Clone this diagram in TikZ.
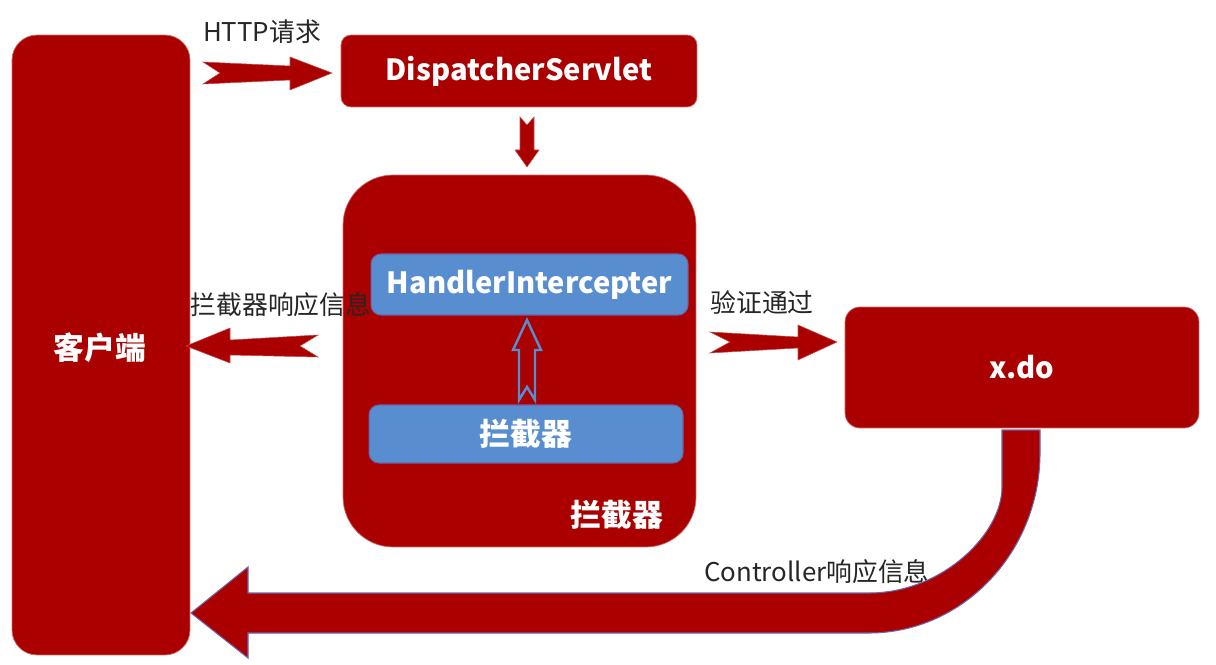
\documentclass[tikz,border=0pt]{standalone}
\usepackage{fontspec}
\setmainfont{Noto Sans CJK SC}
\begin{document}
\begin{tikzpicture}[x=0.02cm,y=-0.02cm,
  redbox/.style={fill=dred, draw=dred!60!white, line width=0.4pt, inner sep=0pt, text=white, font=\bfseries\fontsize{16.6}{20}\selectfont},
  bluebox/.style={fill=lblue, draw=bborder, line width=0.6pt, inner sep=0pt, text=white, font=\bfseries\fontsize{16.6}{20}\selectfont, rounded corners=0.2cm},
  lbl/.style={text=black!85, inner sep=0pt, font=\fontsize{14.7}{17}\selectfont},
  wlbl/.style={text=white, inner sep=0pt, font=\bfseries\fontsize{17.5}{20}\selectfont},
  blockarrow/.style={fill=dred, draw=dred!70!white, line width=0.3pt, line join=miter}
]
\definecolor{dred}{RGB}{170,0,0}
\definecolor{lblue}{RGB}{88,142,208}
\definecolor{bborder}{RGB}{110,100,170}
\useasboundingbox (0,0) rectangle (1216,665);
\fill[white] (0,0) rectangle (1216,665);

% boxes
\node[redbox, rounded corners=0.5cm, minimum width=3.56cm, minimum height=12.4cm] (client) at (101,345) {};
\node[wlbl] (clientlbl) at (100,348) {客户端};
\node[redbox, rounded corners=0.2cm, minimum width=7.12cm, minimum height=1.44cm] (ds) at (519,71) {DispatcherServlet};
\node[redbox, rounded corners=1cm, minimum width=7.06cm, minimum height=7.44cm] (icpt) at (519.5,361) {};
\node[wlbl] (icptlbl) at (617,515) {拦截器};
\node[bluebox, minimum width=6.34cm, minimum height=1.22cm] (hi) at (529.5,284.5) {HandlerIntercepter};
\node[bluebox, minimum width=6.28cm, minimum height=1.16cm, font=\bfseries\fontsize{17.5}{20}\selectfont] (lj) at (526,434) {拦截器};
\node[redbox, rounded corners=0.3cm, minimum width=7.08cm, minimum height=2.42cm] (xdo) at (1022,367.5) {x.do};

% labels
\node[lbl] (http) at (262,32) {HTTP请求};
\node[lbl] (lresp) at (281,305) {拦截器响应信息};
\node[lbl] (pass) at (762,302) {验证通过};
\node[lbl] (cresp) at (817,572) {Controller响应信息};

% HTTP arrow
\draw[blockarrow] (203,62) -- (290,66) -- (290,57) -- (332,73) -- (290,90) -- (290,80) -- (203,84) -- (220,73) -- cycle;
% down arrow
\draw[blockarrow] (520,117) -- (527,125) -- (534,117) -- (534,150) -- (539,150) -- (527,167) -- (515,150) -- (520,150) -- cycle;
% left arrow
\draw[blockarrow] (186,346) -- (230,328) -- (230,340) -- (318,335) -- (300,346) -- (318,357) -- (230,355) -- (230,363) -- cycle;
% right arrow
\draw[blockarrow] (710,332) -- (798,337) -- (798,325) -- (837,342) -- (798,360) -- (798,348) -- (710,353) -- (730,342) -- cycle;
% hollow up arrow
\draw[fill=dred, draw=lblue, line width=1.4pt, line join=miter] (527,320) -- (541,350) -- (535,350) -- (535,400) -- (527,387) -- (519,400) -- (519,350) -- (513,350) -- cycle;
% big curved arrow
\draw[fill=dred, draw=bborder, line width=0.6pt, line join=miter]
  (1002,430) -- (1040,430) -- (1040,453)
  .. controls (1040,552) and (963,633) .. (869,633)
  -- (248,633) -- (248,658) -- (191,613) -- (248,567) -- (248,593) -- (869,593)
  .. controls (942,593) and (1002,534) .. (1002,487) -- cycle;
\end{tikzpicture}
\end{document}
